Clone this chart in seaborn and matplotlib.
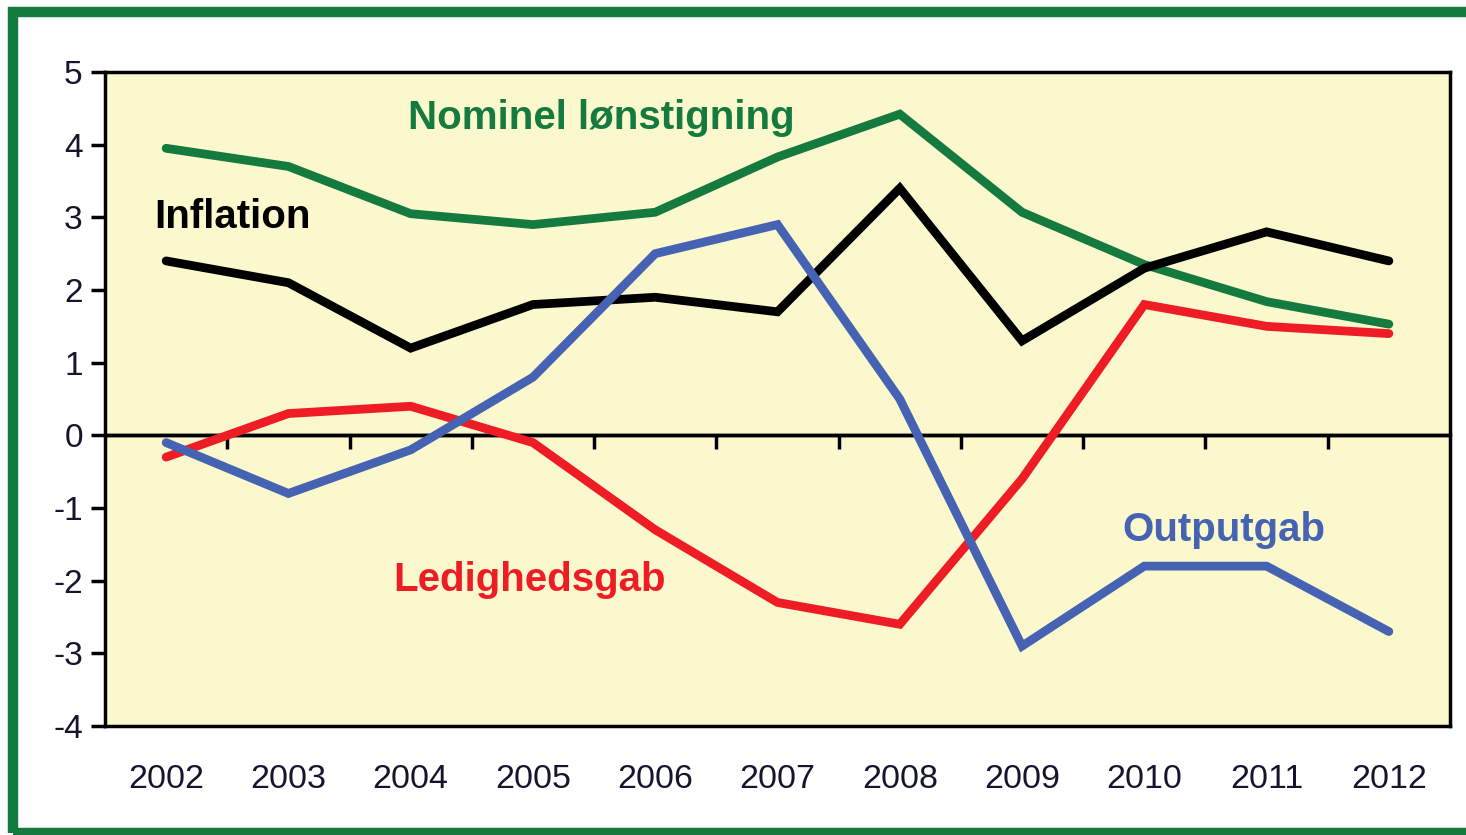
import matplotlib
matplotlib.use("Agg")
import matplotlib.pyplot as plt
from matplotlib.patches import Rectangle
import numpy as np
import pandas as pd
import seaborn as sns

years = list(range(2002, 2013))
loen = [3.95, 3.7, 3.05, 2.9, 3.07, 3.83, 4.42, 3.07, 2.35, 1.84, 1.53]
inflation = [2.4, 2.1, 1.2, 1.8, 1.9, 1.7, 3.4, 1.3, 2.3, 2.8, 2.4]
ledighed = [-0.3, 0.3, 0.4, -0.1, -1.3, -2.3, -2.6, -0.6, 1.8, 1.5, 1.4]
output = [-0.1, -0.8, -0.2, 0.8, 2.5, 2.9, 0.5, -2.9, -1.8, -1.8, -2.7]

series_names = ["Nominel lønstigning", "Inflation", "Ledighedsgab", "Outputgab"]
colors = ["#147a3e", "#000000", "#ee1c25", "#4662b2"]
# label anchor positions (year, value)
label_x = [2005.56, 2002.54, 2004.97, 2010.65]
label_y = [4.37, 3.0, -1.99, -1.3]

df = pd.DataFrame({
    "year": years * 4,
    "value": loen + inflation + ledighed + output,
    "serie": sum([[n] * len(years) for n in series_names], []),
})

sns.set_theme(style="white")
plt.rcParams["font.family"] = ["Liberation Sans", "DejaVu Sans"]
plt.rcParams["axes.unicode_minus"] = False

fig = plt.figure(figsize=(14.66, 8.35), dpi=100)
ax = fig.add_axes([105 / 1466, 1 - 726 / 835, (1450 - 105) / 1466, (726 - 72) / 835])
ax.set_facecolor("#faf8cc")

sns.lineplot(data=df, x="year", y="value", hue="serie", hue_order=series_names,
             palette=colors, legend=False, ax=ax, zorder=3)
for ln in ax.lines:
    ln.set_linewidth(6.3)
    ln.set_solid_capstyle("round")
    ln.set_solid_joinstyle("miter")

ymin, ymax = -4, 5
ax.set_xlim(2001.5, 2012.5)
ax.set_ylim(ymin, ymax)
ax.set_xticks(years)
ax.set_yticks(range(ymin, ymax + 1))
ax.set_xlabel("")
ax.set_ylabel("")
ax.tick_params(axis="x", bottom=False, length=0, pad=27, labelsize=24.5, labelcolor="#15152e")
ax.tick_params(axis="y", left=True, length=10, width=2.5, direction="out", color="black",
               pad=6, labelsize=24, labelcolor="#15152e")
for sp in ax.spines.values():
    sp.set_visible(True)
    sp.set_color("black")
    sp.set_linewidth(2.5)

# zero line with year-boundary ticks
zero_ax = ax.secondary_xaxis((0 - ymin) / (ymax - ymin))
zero_ax.set_xticks([y + 0.5 for y in years[:-1]])
zero_ax.set_xticklabels([])
zero_ax.tick_params(bottom=True, direction="out", length=10, width=2.5, color="black")
zero_ax.spines["bottom"].set_linewidth(2.5)
zero_ax.spines["bottom"].set_color("black")
for k, sp in zero_ax.spines.items():
    if k != "bottom":
        sp.set_visible(False)
ax.axhline(0, color="black", linewidth=2.5, zorder=2)

for name, c, lx, ly in zip(series_names, colors, label_x, label_y):
    ax.text(lx, ly, name, color=c, fontsize=29, fontweight="bold",
            ha="center", va="center", zorder=4)

# green frame round the figure
fig.patches.append(Rectangle((13 / 1466, 2 / 835), 1.2, 1 - 11.5 / 835 - 2 / 835,
                             transform=fig.transFigure, fill=False,
                             edgecolor="#147a3e", linewidth=7.5))

fig.savefig("out.png", dpi=100)
